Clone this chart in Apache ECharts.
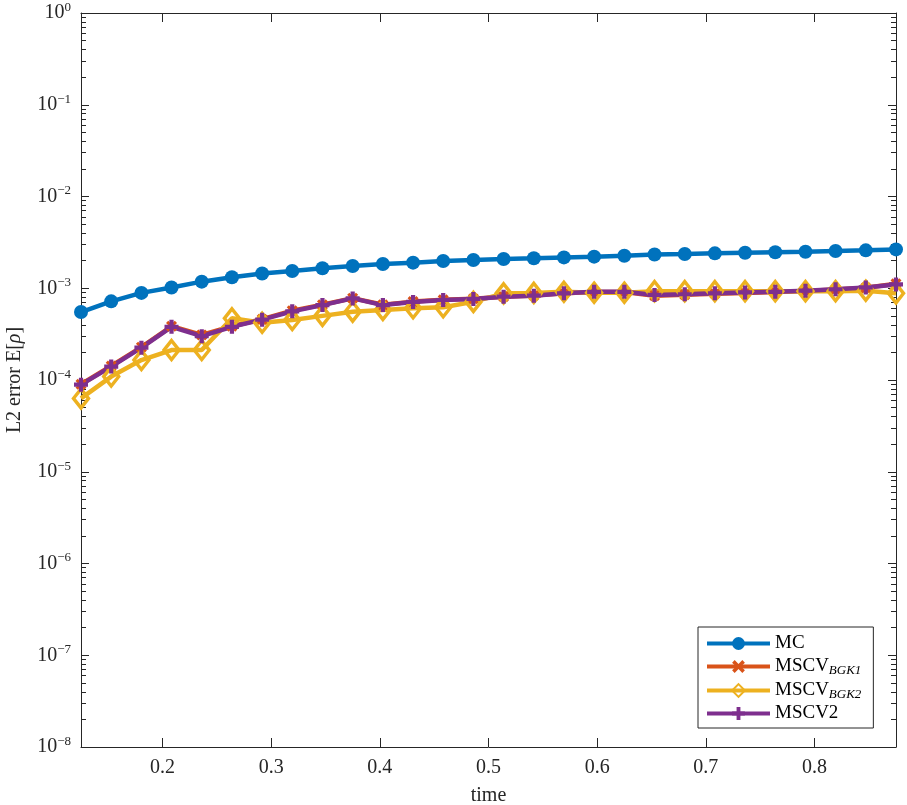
<!DOCTYPE html>
<html>
<head>
<meta charset="utf-8">
<script src="https://cdn.jsdelivr.net/npm/echarts@6.0.0/dist/echarts.min.js"></script>
<style>
  html, body { margin: 0; padding: 0; background: #fff; }
  #main { width: 907px; height: 805px; }
</style>
</head>
<body>
<div id="main"></div>
<script>
// time steps (x) and L2 errors
var times = [0.125, 0.1528, 0.1806, 0.2083, 0.2361, 0.2639, 0.2917, 0.3194, 0.3472, 0.375,
  0.4028, 0.4306, 0.4583, 0.4861, 0.5139, 0.5417, 0.5694, 0.5972, 0.625, 0.6528,
  0.6806, 0.7083, 0.7361, 0.7639, 0.7917, 0.8194, 0.8472, 0.875];

var mcErr = [5.5e-4, 7.2e-4, 8.9e-4, 1.02e-3, 1.18e-3, 1.32e-3, 1.45e-3, 1.54e-3, 1.65e-3, 1.75e-3,
  1.84e-3, 1.90e-3, 1.98e-3, 2.03e-3, 2.08e-3, 2.12e-3, 2.17e-3, 2.21e-3, 2.26e-3, 2.33e-3,
  2.36e-3, 2.40e-3, 2.44e-3, 2.47e-3, 2.50e-3, 2.55e-3, 2.59e-3, 2.65e-3];

var bgk1Err = [9.0e-5, 1.42e-4, 2.28e-4, 3.85e-4, 3.1e-4, 3.85e-4, 4.6e-4, 5.7e-4, 6.6e-4, 7.8e-4,
  6.6e-4, 7.15e-4, 7.5e-4, 7.7e-4, 8.1e-4, 8.35e-4, 8.8e-4, 9.1e-4, 9.1e-4, 8.3e-4,
  8.5e-4, 8.7e-4, 8.9e-4, 9.1e-4, 9.35e-4, 9.7e-4, 1.01e-3, 1.12e-3];

var bgk2Err = [6.3e-5, 1.09e-4, 1.65e-4, 2.12e-4, 2.12e-4, 4.7e-4, 4.2e-4, 4.5e-4, 5.0e-4, 5.55e-4,
  5.8e-4, 6.05e-4, 6.2e-4, 7.1e-4, 8.8e-4, 8.9e-4, 9.15e-4, 8.95e-4, 8.95e-4, 9.3e-4,
  9.3e-4, 9.3e-4, 9.3e-4, 9.3e-4, 9.3e-4, 9.3e-4, 9.4e-4, 8.8e-4];

var mscv2Err = [8.9e-5, 1.40e-4, 2.25e-4, 3.8e-4, 3.0e-4, 3.8e-4, 4.55e-4, 5.6e-4, 6.55e-4, 7.75e-4,
  6.55e-4, 7.1e-4, 7.45e-4, 7.65e-4, 8.1e-4, 8.3e-4, 8.8e-4, 9.15e-4, 9.15e-4, 8.45e-4,
  8.6e-4, 8.8e-4, 9.0e-4, 9.15e-4, 9.4e-4, 9.75e-4, 1.02e-3, 1.1e-3];

var xTicks = [0.2, 0.3, 0.4, 0.5, 0.6, 0.7, 0.8];
var yMajor = [1e-8, 1e-7, 1e-6, 1e-5, 1e-4, 1e-3, 1e-2, 1e-1, 1];

var yMinor = [];
for (var d = -8; d < 0; d++) {
  for (var m = 2; m <= 9; m++) {
    yMinor.push(m * Math.pow(10, d));
  }
}

function pairs(ys) {
  var out = [];
  for (var i = 0; i < times.length; i++) out.push([times[i], ys[i]]);
  return out;
}

var FONT = 'Liberation Serif';
var AX = '#262626';
var symX = 'path://M2,0 L5,3 L8,0 L10,2 L7,5 L10,8 L8,10 L5,7 L2,10 L0,8 L3,5 L0,2 Z';
var symPlus = 'path://M3.5,0 L6.5,0 L6.5,3.5 L10,3.5 L10,6.5 L6.5,6.5 L6.5,10 L3.5,10 L3.5,6.5 L0,6.5 L0,3.5 L3.5,3.5 Z';

function yAxisDef(pos, major, showLabel) {
  return {
    type: 'log',
    position: pos,
    min: 1e-8,
    max: 1,
    logBase: 10,
    axisLine: { show: major, lineStyle: { color: AX, width: 1 } },
    splitLine: { show: false },
    axisTick: {
      show: true, inside: true, length: major ? 8 : 5,
      customValues: major ? yMajor : yMinor,
      lineStyle: { color: AX, width: 1 }
    },
    axisLabel: {
      show: showLabel,
      customValues: yMajor,
      margin: 10,
      fontFamily: FONT,
      color: AX,
      formatter: function (v) {
        var e = Math.round(Math.log10(v));
        return '{b|10}{s|' + (e < 0 ? '\u2212' + (-e) : e) + '}';
      },
      rich: {
        b: { fontFamily: FONT, fontSize: 20, color: AX },
        s: { fontFamily: FONT, fontSize: 13, color: AX, padding: [0, 0, 11, 0] }
      }
    },
    name: showLabel ? '{a|L2 error E[}{i|\u03c1}{a|]}' : '',
    nameLocation: 'middle',
    nameGap: 56,
    nameTextStyle: {
      rich: {
        a: { fontFamily: FONT, fontSize: 20, color: AX },
        i: { fontFamily: FONT, fontSize: 20, color: AX, fontStyle: 'italic' }
      }
    }
  };
}

var chart = echarts.init(document.getElementById('main'));
var option = {
  animation: false,
  backgroundColor: '#fff',
  grid: { left: 81, top: 13, right: 11, bottom: 58, outerBoundsMode: 'none', containLabel: false },
  legend: {
    orient: 'vertical',
    left: 698,
    top: 627,
    padding: [7, 12, 5, 7],
    itemWidth: 63,
    itemHeight: 16,
    itemGap: 3,
    borderColor: AX,
    borderWidth: 1,
    borderRadius: 0,
    backgroundColor: '#fff',
    lineStyle: { width: 4 },
    data: ['MC', 'MSCV_BGK1', 'MSCV_BGK2', 'MSCV2'],
    formatter: function (name) {
      var p = name.split('_');
      if (p.length > 1) return '{n|' + p[0] + '}{s|' + p[1] + '}';
      return '{n|' + name + '}';
    },
    textStyle: {
      fontFamily: FONT,
      fontSize: 19,
      color: '#000',
      rich: {
        n: { fontFamily: FONT, fontSize: 19, color: '#000', lineHeight: 18 },
        s: { fontFamily: FONT, fontSize: 13, color: '#000', fontStyle: 'italic', lineHeight: 10, padding: [8, 0, 0, 0] }
      }
    }
  },
  xAxis: [{
    type: 'value',
    position: 'bottom',
    min: 0.125,
    max: 0.875,
    axisLine: { show: true, onZero: false, lineStyle: { color: AX, width: 1 } },
    splitLine: { show: false },
    axisTick: { show: true, inside: true, length: 9, customValues: xTicks, lineStyle: { color: AX } },
    axisLabel: {
      customValues: xTicks, margin: 11, fontFamily: FONT, fontSize: 20, color: AX,
      formatter: function (v) { return v.toFixed(1); }
    },
    name: 'time',
    nameLocation: 'middle',
    nameGap: 39,
    nameTextStyle: { fontFamily: FONT, fontSize: 20, color: AX }
  }, {
    type: 'value',
    position: 'top',
    min: 0.125,
    max: 0.875,
    axisLine: { show: true, onZero: false, lineStyle: { color: AX, width: 1 } },
    splitLine: { show: false },
    axisTick: { show: true, inside: true, length: 9, customValues: xTicks, lineStyle: { color: AX } },
    axisLabel: { show: false }
  }],
  yAxis: [
    yAxisDef('left', true, true),
    yAxisDef('left', false, false),
    yAxisDef('right', true, false),
    yAxisDef('right', false, false)
  ],
  series: [{
    name: 'MC',
    type: 'line',
    data: pairs(mcErr),
    symbol: 'circle',
    symbolSize: 14,
    lineStyle: { color: '#0072BD', width: 4.5 },
    itemStyle: { color: '#0072BD' }
  }, {
    name: 'MSCV_BGK1',
    type: 'line',
    data: pairs(bgk1Err),
    symbol: symX,
    symbolSize: 11,
    lineStyle: { color: '#D95319', width: 4.5 },
    itemStyle: { color: '#D95319' }
  }, {
    name: 'MSCV_BGK2',
    type: 'line',
    data: pairs(bgk2Err),
    symbol: 'diamond',
    symbolSize: [15, 19],
    lineStyle: { color: '#EDB120', width: 4.5 },
    itemStyle: { color: 'rgba(255,255,255,0)', borderColor: '#EDB120', borderWidth: 3.5 }
  }, {
    name: 'MSCV2',
    type: 'line',
    data: pairs(mscv2Err),
    symbol: symPlus,
    symbolSize: 14,
    lineStyle: { color: '#7E2F8E', width: 4.5 },
    itemStyle: { color: '#7E2F8E' }
  }]
};
chart.setOption(option);
</script>
</body>
</html>
